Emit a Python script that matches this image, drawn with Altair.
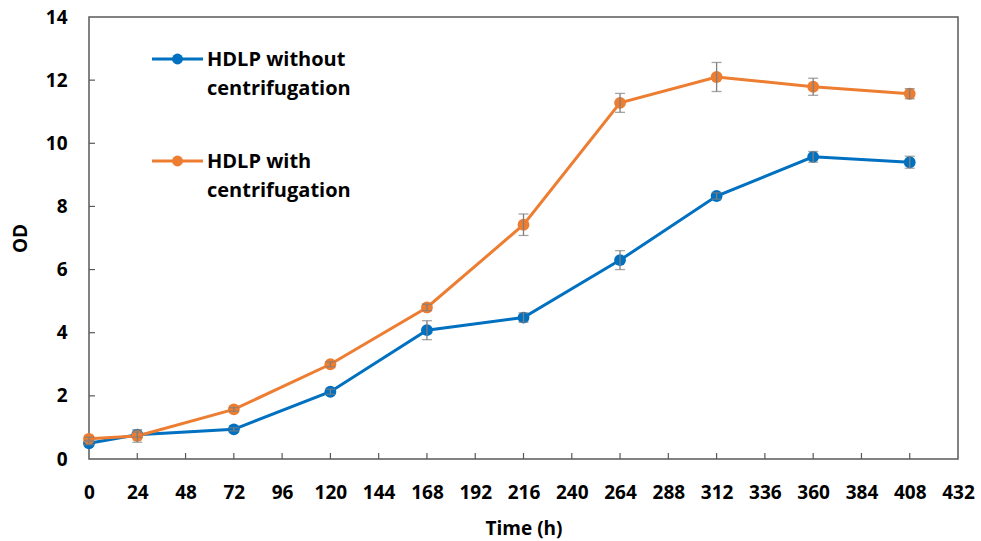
import altair as alt
import pandas as pd

# ---- data ----
time_h = [0, 24, 72, 120, 168, 216, 264, 312, 360, 408]
series_names = ["HDLP without centrifugation", "HDLP with centrifugation"]
od_without = [0.50, 0.77, 0.94, 2.13, 4.08, 4.48, 6.30, 8.33, 9.57, 9.40]
err_without = [0.05, 0.08, 0.05, 0.08, 0.30, 0.15, 0.30, 0.10, 0.17, 0.19]
od_with = [0.64, 0.73, 1.57, 3.00, 4.80, 7.42, 11.28, 12.10, 11.79, 11.57]
err_with = [0.05, 0.20, 0.06, 0.08, 0.10, 0.34, 0.30, 0.46, 0.27, 0.16]
x_tick_values = list(range(0, 433, 24))
y_tick_values = [0, 2, 4, 6, 8, 10, 12, 14]
series_colors = ["#0070C0", "#ED7D31"]

rows = []
for name, vals, errs in [(series_names[0], od_without, err_without),
                         (series_names[1], od_with, err_with)]:
    for t, v, e in zip(time_h, vals, errs):
        rows.append({"time": t, "od": v, "lo": v - e, "hi": v + e, "series": name})
df = pd.DataFrame(rows)
xt = pd.DataFrame({"time": x_tick_values[1:-1]})
yt = pd.DataFrame({"od": y_tick_values[1:-1]})
leg_df = pd.DataFrame({"series": series_names,
                       "label": [s.replace(" centrifugation", "|centrifugation") for s in series_names]})

W, H = 869, 442
FONT = "Open Sans"
FS = 19
LEG_FS = 20
AX = "#595959"
ERR = "#7F7F7F"

xscale = alt.Scale(domain=[0, 432], nice=False, zero=False)
yscale = alt.Scale(domain=[0, 14], nice=False)
cscale = alt.Scale(domain=series_names, range=series_colors)

x_axis = alt.Axis(values=x_tick_values, title="Time (h)", ticks=False, domain=False,
                  grid=False, labelPadding=24, titlePadding=17, labelFont=FONT,
                  labelFontSize=FS, labelFontWeight="bold", labelColor="black",
                  titleFont=FONT, titleFontSize=FS, titleFontWeight="bold",
                  titleColor="black", labelFlush=False, labelOverlap=False)
y_axis = alt.Axis(values=y_tick_values, title="OD", ticks=False, domain=False,
                  grid=False, labelPadding=22, titleX=-69, titleY=H / 2,
                  titleAngle=-90, titleBaseline="middle", labelFont=FONT,
                  labelFontSize=FS, labelFontWeight="bold", labelColor="black",
                  titleFont=FONT, titleFontSize=FS, titleFontWeight="bold",
                  titleColor="black", labelFlush=False)

color_nl = alt.Color("series:N", scale=cscale, legend=None)

lines = alt.Chart(df).mark_line(strokeWidth=3).encode(
    x=alt.X("time:Q", scale=xscale, axis=x_axis),
    y=alt.Y("od:Q", scale=yscale, axis=y_axis),
    color=color_nl,
)
points = alt.Chart(df).mark_circle(size=140, opacity=1).encode(
    x=alt.X("time:Q", scale=xscale),
    y=alt.Y("od:Q", scale=yscale),
    color=color_nl,
)
err_rules = alt.Chart(df).mark_rule(color=ERR, strokeWidth=1.3).encode(
    x=alt.X("time:Q", scale=xscale),
    y=alt.Y("lo:Q", scale=yscale),
    y2="hi:Q",
)
err_lo = alt.Chart(df).mark_tick(color=ERR, thickness=1.3, size=10, orient="horizontal").encode(
    x=alt.X("time:Q", scale=xscale),
    y=alt.Y("lo:Q", scale=yscale),
)
err_hi = alt.Chart(df).mark_tick(color=ERR, thickness=1.3, size=10, orient="horizontal").encode(
    x=alt.X("time:Q", scale=xscale),
    y=alt.Y("hi:Q", scale=yscale),
)
xticks = alt.Chart(xt).mark_rule(color=AX, strokeWidth=1.2).encode(
    x=alt.X("time:Q", scale=xscale),
    y=alt.value(H), y2=alt.value(H - 6),
)
yticks = alt.Chart(yt).mark_rule(color=AX, strokeWidth=1.2).encode(
    y=alt.Y("od:Q", scale=yscale),
    x=alt.value(0), x2=alt.value(6),
)

# ---- legend drawn inside the plot (top-left) ----
LEG_X0, LEG_X1, LEG_TXT = 63, 114, 118
LEG_Y0, LEG_DY = 42, 102
legend_layers = []
for i, name in enumerate(series_names):
    ly = LEG_Y0 + i * LEG_DY
    base = alt.Chart(leg_df).transform_filter(alt.datum.series == name)
    legend_layers.append(base.mark_rule(strokeWidth=3).encode(
        x=alt.value(LEG_X0), x2=alt.value(LEG_X1), y=alt.value(ly), color=color_nl))
    legend_layers.append(base.mark_circle(size=120, opacity=1).encode(
        x=alt.value((LEG_X0 + LEG_X1) / 2), y=alt.value(ly), color=color_nl))
    legend_layers.append(base.mark_text(
        align="left", baseline="middle", lineBreak="|", lineHeight=29,
        font=FONT, fontSize=LEG_FS, fontWeight="bold", color="black").encode(
        x=alt.value(LEG_TXT), y=alt.value(ly + 1), text="label:N"))

chart = alt.layer(lines, points, err_rules, err_lo, err_hi, xticks, yticks,
                  *legend_layers).properties(
    width=W, height=H,
    autosize=alt.AutoSizeParams(type="none"),
    padding={"left": 89, "top": 17, "right": 23, "bottom": 82},
    background="white",
).configure_view(stroke=AX, strokeWidth=1.5)

chart.save("out.html", embed_options={"renderer": "svg", "actions": False})
